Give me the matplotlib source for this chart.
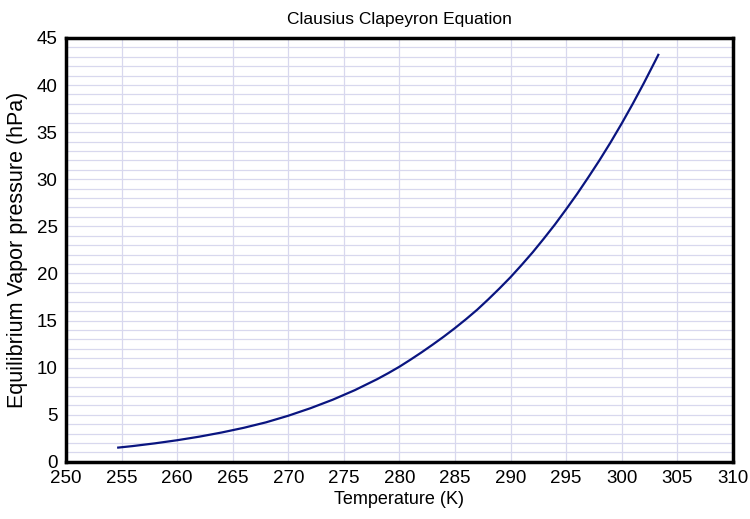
import matplotlib.pyplot as plt

# values
temp_k = [254.7, 256, 258, 260, 262, 264, 266, 268, 270, 272, 274, 276, 278, 279,
          280, 281, 282, 283, 284, 285, 286, 287, 288, 289, 290, 291, 292, 293, 294,
          295, 296, 297, 298, 299, 300, 301, 302, 303, 303.3]
vapor_hpa = [1.52, 1.68, 1.97, 2.3, 2.68, 3.12, 3.62, 4.2, 4.9, 5.7, 6.6, 7.62, 8.78, 9.42,
             10.1, 10.85, 11.63, 12.45, 13.3, 14.2, 15.15, 16.15, 17.25, 18.4, 19.6, 20.9, 22.25, 23.7, 25.2,
             26.8, 28.45, 30.2, 32.0, 33.9, 35.9, 38.0, 40.2, 42.5, 43.2]

x_ticks = list(range(250, 311, 5))
y_ticks = list(range(0, 46, 5))

plt.rcParams['font.family'] = ['Liberation Sans', 'DejaVu Sans']

fig = plt.figure(figsize=(7.5, 5.19), dpi=100)
ax = fig.add_axes([0.088, 0.110, 0.889, 0.817])

ax.plot(temp_k, vapor_hpa, color='#0a1580', linewidth=1.6)

ax.set_xlim(250, 310)
ax.set_ylim(0, 45)
ax.set_xticks(x_ticks)
ax.set_yticks(y_ticks)
ax.set_yticks(range(0, 46, 1), minor=True)
ax.grid(True, which='major', axis='x', color='#d8d8ee', linewidth=0.9)
ax.grid(True, which='both', axis='y', color='#d8d8ee', linewidth=0.9)
ax.set_axisbelow(True)
ax.tick_params(which='both', length=0, labelsize=13.5, pad=6)

for s in ax.spines.values():
    s.set_linewidth(2.5)
    s.set_color('black')

ax.set_title('Clausius Clapeyron Equation', fontsize=12.5, pad=10)
ax.set_xlabel('Temperature (K)', fontsize=13, labelpad=3)
ax.set_ylabel('Equilibrium Vapor pressure (hPa)', fontsize=15.5, labelpad=6)

fig.savefig('out.png', dpi=100)
